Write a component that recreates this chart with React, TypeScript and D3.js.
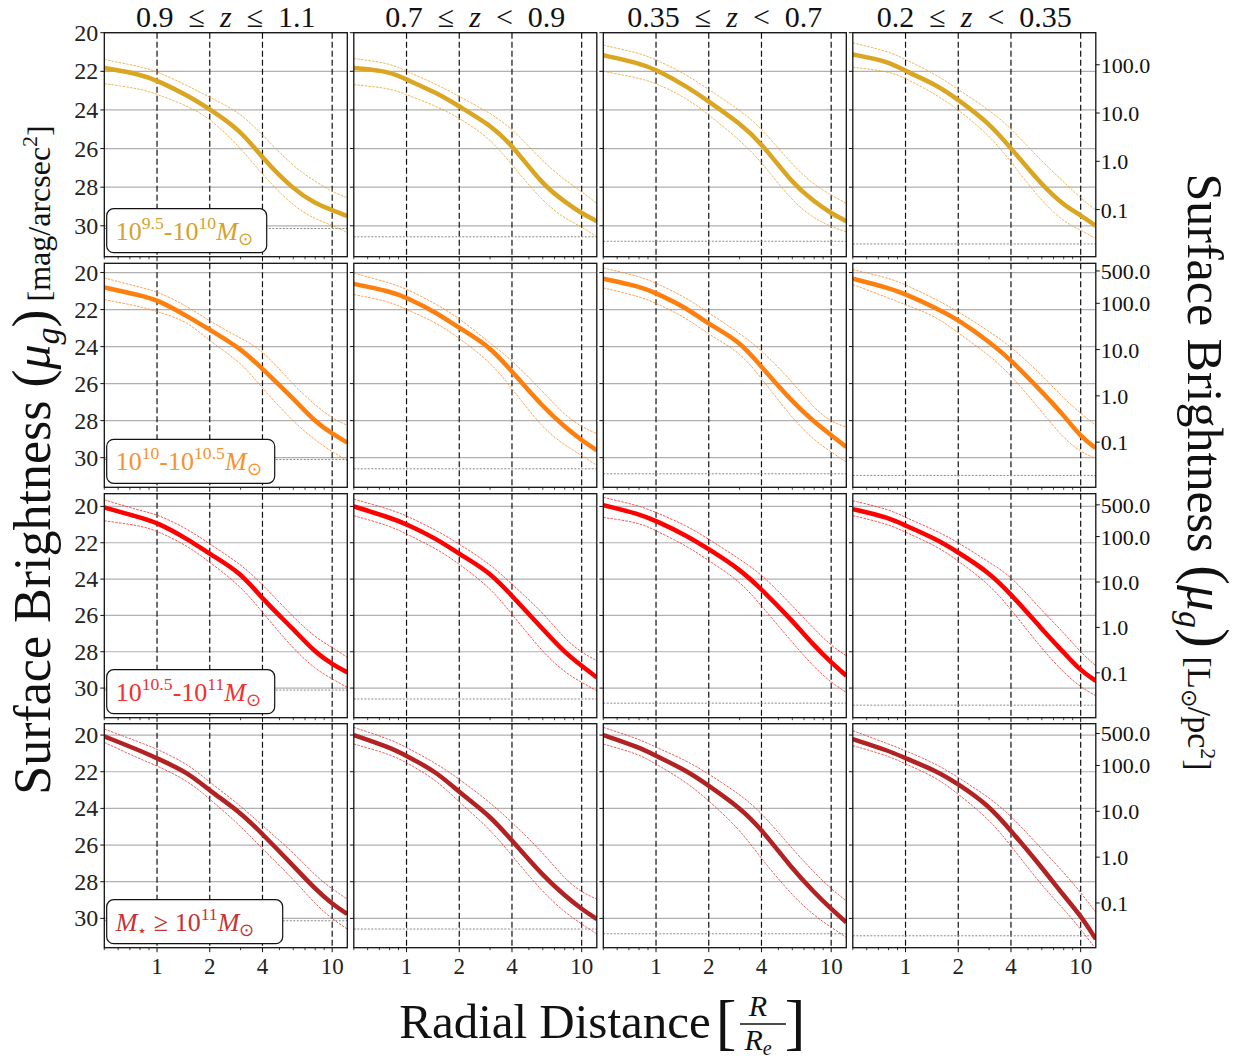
import React from "react";
import * as d3 from "d3";

// ---------------- DATA ----------------
const radii = [0.5, 0.8, 1, 1.5, 2, 3, 4, 6, 8, 10, 12.2];
const columnTitles = [
  ["0.9", "≤", "z", "≤", "1.1"],
  ["0.7", "≤", "z", "<", "0.9"],
  ["0.35", "≤", "z", "<", "0.7"],
  ["0.2", "≤", "z", "<", "0.35"],
];
const xTickValues = [1, 2, 4, 10];
const xTickLabels = ["1", "2", "4", "10"];
const magTicks = [20, 22, 24, 26, 28, 30];
const fluxTicks = [500, 100, 10, 1, 0.1];
const fluxTickLabels = ["500.0", "100.0", "10.0", "1.0", "0.1"];
const magZeroPoint = 26.66;
const rowMagTop = [20, 19.5, 19.3, 19.38];
const rowMagBottom = [31.6, 31.6, 31.63, 31.6];

// mass bin 10^9.5 - 10^10
const medianBin1 = [
  [21.83, 22.15, 22.47, 23.25, 23.96, 25.05, 26.5, 28.12, 28.84, 29.19, 29.5],
  [21.83, 22.0, 22.43, 23.13, 23.82, 24.77, 25.81, 27.89, 28.75, 29.36, 29.76],
  [21.17, 21.57, 21.91, 22.78, 23.56, 24.68, 25.72, 27.8, 28.75, 29.36, 29.76],
  [21.13, 21.48, 22.0, 22.69, 23.47, 24.68, 25.98, 27.89, 28.93, 29.45, 30.0],
];
const upperBin1 = [
  [21.39, 21.75, 22.0, 22.75, 23.35, 24.15, 25.29, 26.95, 27.7, 28.23, 28.55],
  [21.34, 21.57, 22.0, 22.69, 23.3, 24.16, 24.94, 26.68, 27.63, 28.23, 28.84],
  [20.65, 21.05, 21.39, 22.17, 22.95, 23.99, 24.94, 26.85, 27.89, 28.41, 28.84],
  [20.53, 20.96, 21.39, 22.17, 22.95, 23.99, 24.94, 26.68, 27.71, 28.58, 29.19],
];
const lowerBin1 = [
  [22.64, 22.9, 23.18, 23.8, 24.42, 25.95, 27.37, 29.0, 29.65, 29.97, 30.35],
  [22.69, 22.87, 23.21, 23.82, 24.42, 25.46, 26.85, 28.75, 29.62, 30.05, 30.57],
  [22.0, 22.35, 22.61, 23.39, 24.25, 25.55, 26.68, 28.75, 29.62, 30.05, 30.31],
  [21.79, 22.0, 22.35, 23.21, 23.99, 25.29, 26.68, 28.75, 29.79, 30.22, 30.66],
];
// mass bin 10^10 - 10^10.5
const medianBin2 = [
  [20.8, 21.23, 21.46, 22.37, 23.09, 24.09, 25.2, 26.8, 28.07, 28.7, 29.19],
  [20.61, 21.01, 21.34, 22.19, 23.0, 24.0, 25.35, 27.25, 28.34, 29.06, 29.6],
  [20.33, 20.74, 21.1, 21.92, 22.8, 23.7, 25.1, 26.98, 28.07, 28.79, 29.42],
  [20.33, 20.83, 21.16, 21.92, 22.55, 23.73, 24.72, 26.44, 27.7, 28.88, 29.48],
];
const upperBin2 = [
  [20.29, 20.8, 21.01, 21.83, 22.64, 23.54, 24.18, 26.08, 27.16, 27.88, 28.25],
  [20.02, 20.56, 20.87, 21.74, 22.46, 23.82, 24.72, 26.44, 27.7, 28.34, 28.7],
  [19.75, 20.2, 20.56, 21.37, 22.19, 23.27, 24.18, 25.9, 27.34, 28.07, 28.34],
  [19.84, 20.29, 20.65, 21.46, 22.1, 23.18, 23.99, 25.53, 26.8, 27.61, 28.25],
];
const lowerBin2 = [
  [21.46, 21.83, 22.1, 22.64, 23.73, 24.81, 26.26, 28.07, 29.06, 29.69, 30.14],
  [21.19, 21.56, 22.0, 22.73, 23.54, 24.81, 26.26, 28.43, 29.33, 29.87, 30.42],
  [20.83, 21.28, 21.65, 22.46, 23.36, 24.27, 25.71, 27.88, 29.06, 29.69, 30.24],
  [20.65, 21.37, 21.74, 22.37, 23.27, 24.45, 25.53, 27.52, 28.97, 29.69, 30.05],
];
// mass bin 10^10.5 - 10^11
const medianBin3 = [
  [20.06, 20.61, 20.88, 21.8, 22.62, 23.63, 25.1, 26.75, 28.04, 28.68, 29.14],
  [20.0, 20.61, 20.97, 21.8, 22.62, 23.63, 24.92, 26.75, 28.04, 28.77, 29.41],
  [19.93, 20.42, 20.79, 21.61, 22.35, 23.45, 24.55, 26.29, 27.67, 28.59, 29.32],
  [20.15, 20.61, 21.06, 21.8, 22.53, 23.63, 24.83, 26.75, 28.04, 29.05, 29.6],
];
const upperBin3 = [
  [19.63, 20.24, 20.42, 21.25, 22.07, 23.17, 24.28, 26.11, 27.21, 27.76, 28.31],
  [19.6, 20.15, 20.51, 21.34, 22.07, 23.17, 24.28, 25.83, 27.3, 28.04, 28.5],
  [19.5, 19.96, 20.33, 21.06, 21.8, 22.9, 23.72, 25.47, 26.75, 27.67, 28.22],
  [19.69, 20.15, 20.61, 21.34, 21.98, 23.08, 23.82, 25.74, 26.94, 28.04, 28.77],
];
const lowerBin3 = [
  [20.79, 21.06, 21.34, 22.17, 23.08, 24.37, 25.83, 27.85, 28.95, 29.5, 29.96],
  [20.51, 21.06, 21.52, 22.35, 23.17, 24.46, 25.93, 28.04, 29.14, 29.69, 30.15],
  [20.61, 20.88, 21.34, 22.17, 22.99, 24.09, 25.47, 27.49, 28.86, 29.69, 30.24],
  [20.51, 20.97, 21.43, 22.17, 22.99, 24.28, 25.65, 27.85, 29.14, 29.96, 30.42],
];
// mass bin >= 10^11
const medianBin4 = [
  [20.07, 20.85, 21.27, 22.04, 23.04, 24.22, 25.4, 27.13, 28.4, 29.22, 29.76],
  [20.0, 20.67, 21.13, 22.04, 23.13, 24.4, 25.76, 27.67, 28.76, 29.49, 30.04],
  [20.0, 20.67, 21.13, 21.95, 22.76, 23.95, 25.13, 27.31, 28.58, 29.49, 30.22],
  [20.22, 20.85, 21.27, 21.95, 22.67, 23.85, 25.22, 27.22, 28.76, 29.85, 31.13],
];
const upperBin4 = [
  [19.67, 20.4, 20.76, 21.58, 22.58, 23.85, 24.95, 26.4, 27.67, 28.4, 28.95],
  [19.58, 20.22, 20.67, 21.58, 22.4, 23.67, 24.76, 26.4, 27.85, 28.58, 28.95],
  [19.58, 20.22, 20.67, 21.4, 22.13, 23.22, 24.22, 26.22, 27.49, 28.4, 29.04],
  [19.76, 20.49, 20.85, 21.58, 22.31, 23.4, 24.4, 26.22, 27.49, 28.58, 29.67],
];
const lowerBin4 = [
  [20.4, 21.31, 21.67, 22.49, 23.49, 24.95, 26.22, 27.85, 29.22, 30.04, 30.58],
  [20.49, 21.04, 21.49, 22.49, 23.67, 25.13, 26.58, 28.58, 29.67, 30.31, 30.85],
  [20.49, 21.04, 21.58, 22.58, 23.58, 25.13, 26.76, 28.76, 29.85, 30.49, 31.04],
  [20.58, 21.13, 21.58, 22.31, 23.22, 24.58, 26.04, 28.22, 29.49, 30.58, 31.67],
];
// surface brightness limits per row (mass bin) and column (redshift bin)
const limitBin1 = [30.14, 30.57, 30.8, 30.94];
const limitBin2 = [30.1, 30.6, 30.87, 30.96];
const limitBin3 = [30.11, 30.6, 30.83, 30.94];
const limitBin4 = [30.13, 30.58, 30.84, 30.95];

const medians = [medianBin1, medianBin2, medianBin3, medianBin4];
const uppers = [upperBin1, upperBin2, upperBin3, upperBin4];
const lowers = [lowerBin1, lowerBin2, lowerBin3, lowerBin4];
const limits = [limitBin1, limitBin2, limitBin3, limitBin4];

// ---------------- STYLE / LAYOUT ----------------
const mainColors = ["#DAA520", "#FF7F0E", "#FF0000", "#B22222"];
const bandColors = ["#E8A530", "#FF8A2A", "#FF2A2A", "#E03A3A"];
const legendColors = ["#D6A22C", "#F7922F", "#F23030", "#C43434"];
const legendWidths = [160, 168, 168, 176];

const FONT = "'Liberation Serif', 'Times New Roman', serif";
const colLeft = [104.3, 353.8, 603.3, 852.8];
const rowTop = [32.7, 263.3, 493.7, 723.7];
const panelW = 243;
const panelH = 224;

function Legend({ row }: { row: number }) {
  const fs = 26;
  const color = legendColors[row];
  const w = legendWidths[row];
  const h = 44;
  const x0 = 2.4;
  const y0 = panelH - 4 - h;
  let content: React.ReactNode;
  const sup = (t: string) => (
    <tspan fontSize={fs * 0.68} dy={-11}>
      {t}
    </tspan>
  );
  const down = (t: string) => <tspan dy={11}>{t}</tspan>;
  const msun = (
    <>
      <tspan dy={11} fontStyle="italic">
        M
      </tspan>
      <tspan fontSize={fs * 0.68} dy={5}>
        ⊙
      </tspan>
    </>
  );
  if (row === 0) {
    content = (
      <>
        <tspan>10</tspan>
        {sup("9.5")}
        {down("-10")}
        {sup("10")}
        {msun}
      </>
    );
  } else if (row === 1) {
    content = (
      <>
        <tspan>10</tspan>
        {sup("10")}
        {down("-10")}
        {sup("10.5")}
        {msun}
      </>
    );
  } else if (row === 2) {
    content = (
      <>
        <tspan>10</tspan>
        {sup("10.5")}
        {down("-10")}
        {sup("11")}
        {msun}
      </>
    );
  } else {
    content = (
      <>
        <tspan fontStyle="italic">M</tspan>
        <tspan fontSize={fs * 0.6} dy={5}>
          ⋆
        </tspan>
        <tspan dy={-5}> ≥ 10</tspan>
        {sup("11")}
        {msun}
      </>
    );
  }
  return (
    <g>
      <rect x={x0} y={y0} width={w} height={h} rx={7} ry={7} fill="white" stroke="#111" strokeWidth={1.2} />
      <text x={x0 + 9} y={y0 + 31} fontSize={fs} fill={color} fontFamily={FONT}>
        {content}
      </text>
    </g>
  );
}

function Panel({ row, col }: { row: number; col: number }) {
  const x = d3.scaleLog().domain([0.5, 12.2]).range([0, panelW]);
  const y = d3.scaleLinear().domain([rowMagTop[row], rowMagBottom[row]]).range([0, panelH]);
  const line = d3
    .line<number>()
    .x((_, i) => x(radii[i]))
    .y((m) => y(m))
    .curve(d3.curveBasis);
  const clipId = `clip-${row}-${col}`;
  const minorTicks = [0.5, 0.6, 0.7, 0.8, 0.9, 3, 5, 6, 7, 8, 9].filter((v) => x(v) >= 0 && x(v) <= panelW);
  const isBottom = row === 3;
  const isLeft = col === 0;
  const isRight = col === 3;
  return (
    <g transform={`translate(${colLeft[col]},${rowTop[row]})`}>
      <defs>
        <clipPath id={clipId}>
          <rect x={0} y={0} width={panelW} height={panelH} />
        </clipPath>
      </defs>
      <g clipPath={`url(#${clipId})`}>
        {magTicks.map((m) => (
          <line key={m} x1={0} x2={panelW} y1={y(m)} y2={y(m)} stroke="#b0b0b0" strokeWidth={1.2} />
        ))}
        {xTickValues.map((v) => (
          <line key={v} x1={x(v)} x2={x(v)} y1={0} y2={panelH} stroke="#111" strokeWidth={1.2} strokeDasharray="6,3" />
        ))}
        <line
          x1={0}
          x2={panelW}
          y1={y(limits[row][col])}
          y2={y(limits[row][col])}
          stroke="#8a8a8a"
          strokeWidth={1}
          strokeDasharray="2,1.5"
        />
        <path d={line(uppers[row][col]) || ""} fill="none" stroke={bandColors[row]} strokeWidth={0.9} strokeDasharray="2.5,1.2" opacity={0.9} />
        <path d={line(lowers[row][col]) || ""} fill="none" stroke={bandColors[row]} strokeWidth={0.9} strokeDasharray="2.5,1.2" opacity={0.9} />
        <path d={line(medians[row][col]) || ""} fill="none" stroke={mainColors[row]} strokeWidth={4.5} strokeLinejoin="round" />
      </g>
      {/* ticks */}
      {xTickValues.map((v) => (
        <line key={"mx" + v} x1={x(v)} x2={x(v)} y1={panelH} y2={panelH + 4.5} stroke="#111" strokeWidth={1} />
      ))}
      {minorTicks.map((v) => (
        <line key={"nx" + v} x1={x(v)} x2={x(v)} y1={panelH} y2={panelH + 2.5} stroke="#111" strokeWidth={0.8} />
      ))}
      {magTicks
        .filter((m) => y(m) >= 0)
        .map((m) => (
          <line key={"my" + m} x1={-4} x2={0} y1={y(m)} y2={y(m)} stroke="#111" strokeWidth={1} />
        ))}
      {isLeft &&
        magTicks
          .filter((m) => y(m) >= -1)
          .map((m) => (
            <text key={"ly" + m} x={-6} y={y(m) + 8} textAnchor="end" fontSize={24} fontFamily={FONT} fill="#222">
              {m}
            </text>
          ))}
      {isBottom &&
        xTickValues.map((v, i) => (
          <text key={"lx" + v} x={x(v)} y={panelH + 26} textAnchor="middle" fontSize={23} fontFamily={FONT} fill="#222">
            {xTickLabels[i]}
          </text>
        ))}
      {isRight &&
        fluxTicks.map((f, i) => {
          const m = magZeroPoint - 2.5 * Math.log10(f);
          if (m < rowMagTop[row] || m > rowMagBottom[row]) return null;
          return (
            <g key={"rf" + f}>
              <line x1={panelW} x2={panelW + 4} y1={y(m)} y2={y(m)} stroke="#111" strokeWidth={1} />
              <text x={panelW + 5} y={y(m) + 8} fontSize={22} fontFamily={FONT} fill="#111">
                {fluxTickLabels[i]}
              </text>
            </g>
          );
        })}
      <rect x={0} y={0} width={panelW} height={panelH} fill="none" stroke="#111" strokeWidth={1.3} />
      {isLeft && <Legend row={row} />}
    </g>
  );
}

export default function App() {
  const W = 1242;
  const H = 1061;
  const rows = [0, 1, 2, 3];
  const cols = [0, 1, 2, 3];
  return (
    <svg
      width={W}
      height={H}
      viewBox={`0 0 ${W} ${H}`}
      style={{ position: "absolute", left: 0, top: 0, background: "white", display: "block" }}
      fontFamily={FONT}
    >
      <rect x={0} y={0} width={W} height={H} fill="white" />
      {rows.map((r) => cols.map((c) => <Panel key={`${r}-${c}`} row={r} col={c} />))}
      {/* column titles */}
      {columnTitles.map((t, c) => (
        <text key={c} x={colLeft[c] + panelW / 2} y={27} textAnchor="middle" fontSize={30} fontFamily={FONT} fill="#111">
          <tspan>{t[0]}</tspan>
          <tspan>{"\u2002" + t[1] + "\u2002"}</tspan>
          <tspan fontStyle="italic">{t[2]}</tspan>
          <tspan>{"\u2002" + t[3] + "\u2002"}</tspan>
          <tspan>{t[4]}</tspan>
        </text>
      ))}
      {/* left y label */}
      <text transform="translate(50,460) rotate(-90)" textAnchor="middle" fontFamily={FONT} fill="#111">
        <tspan fontSize={52}>Surface Brightness </tspan>
        <tspan fontSize={54}>(</tspan>
        <tspan fontSize={50} fontStyle="italic">μ</tspan>
        <tspan fontSize={34} fontStyle="italic" dy={9}>g</tspan>
        <tspan fontSize={54} dy={-9}>)</tspan>
        <tspan fontSize={32}> [mag/arcsec</tspan>
        <tspan fontSize={22} dy={-13}>2</tspan>
        <tspan fontSize={32} dy={13}>]</tspan>
      </text>
      {/* right y label */}
      <text transform="translate(1188,472) rotate(90)" textAnchor="middle" fontFamily={FONT} fill="#111">
        <tspan fontSize={50}>Surface Brightness </tspan>
        <tspan fontSize={60}>(</tspan>
        <tspan fontSize={52} fontStyle="italic">μ</tspan>
        <tspan fontSize={34} fontStyle="italic" dy={9}>g</tspan>
        <tspan fontSize={60} dy={-9}>)</tspan>
        <tspan fontSize={34}> [L</tspan>
        <tspan fontSize={22} dy={6}>⊙</tspan>
        <tspan fontSize={34} dy={-6}>/pc</tspan>
        <tspan fontSize={22} dy={-13}>2</tspan>
        <tspan fontSize={34} dy={13}>]</tspan>
      </text>
      {/* x label */}
      <text x={555} y={1038} textAnchor="middle" fontSize={49} fontFamily={FONT} fill="#111">
        Radial Distance
      </text>
      <text x={726} y={1043} textAnchor="middle" fontSize={62} fontFamily={FONT} fill="#111">[</text>
      <text x={758} y={1016} textAnchor="middle" fontSize={30} fontStyle="italic" fontFamily={FONT} fill="#111">R</text>
      <line x1={740} x2={786} y1={1024} y2={1024} stroke="#111" strokeWidth={1.5} />
      <text x={758} y={1050} textAnchor="middle" fontSize={30} fontFamily={FONT} fill="#111">
        <tspan fontStyle="italic">R</tspan>
        <tspan fontSize={20} fontStyle="italic" dy={5}>e</tspan>
      </text>
      <text x={795} y={1043} textAnchor="middle" fontSize={62} fontFamily={FONT} fill="#111">]</text>
    </svg>
  );
}
